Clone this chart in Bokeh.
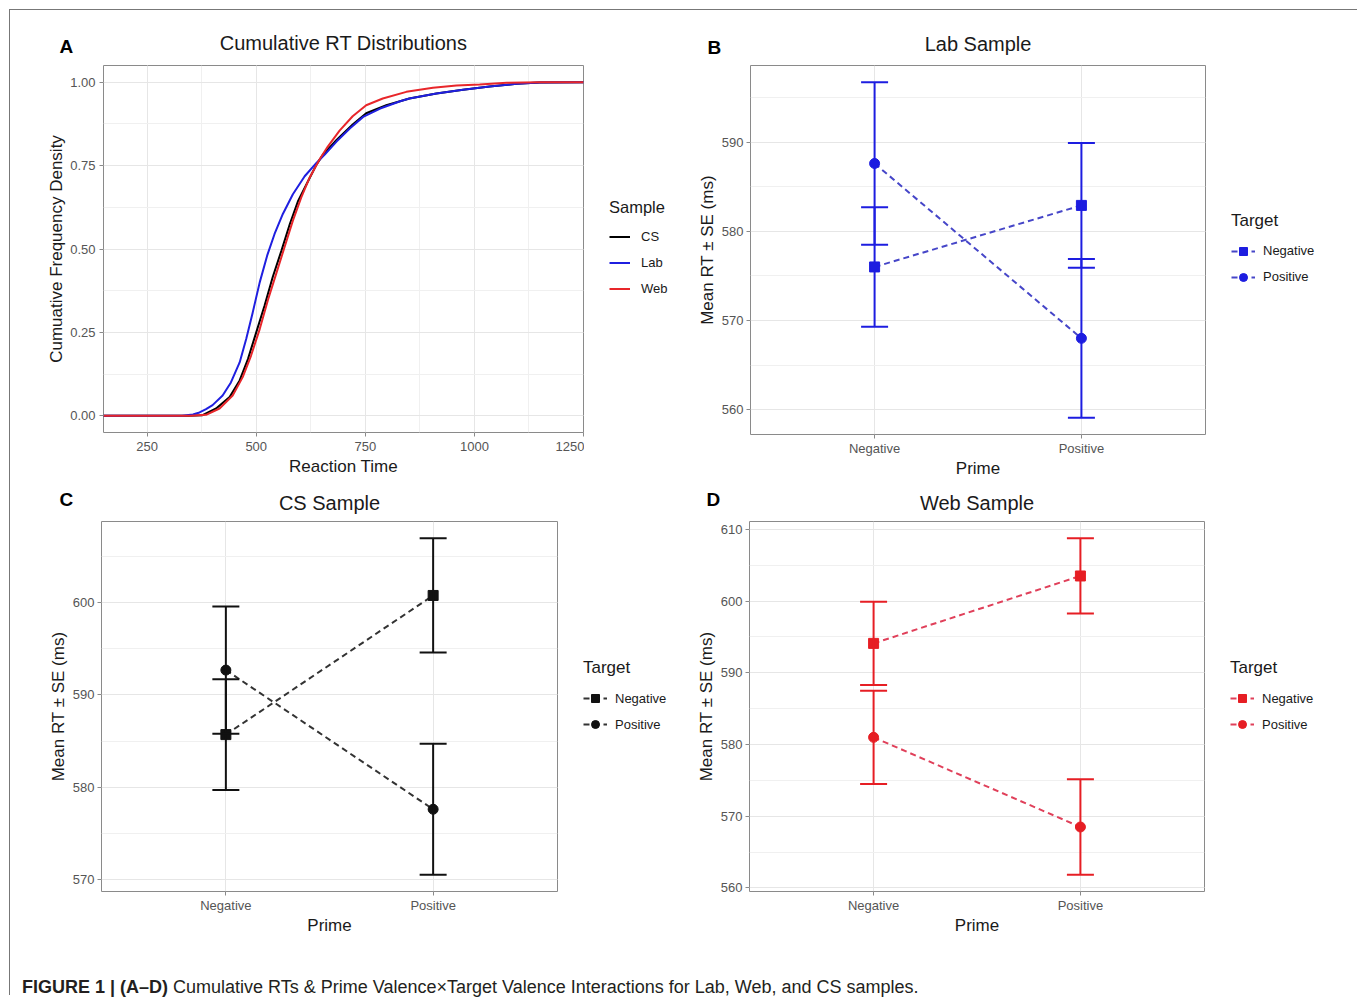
from bokeh.plotting import figure
from bokeh.models import (ColumnDataSource, Range1d, SingleIntervalTicker, FixedTicker, Title,
                          Legend, LegendItem, Whisker, TeeHead, Div, PrintfTickFormatter)
from bokeh.layouts import column, row
from bokeh.embed import file_html
from bokeh.resources import INLINE

FONT = "Liberation Sans"

# ---------------- data ----------------
# Panel A: cumulative RT distributions
cs_x = [150, 345, 377, 408, 439, 462, 481, 500, 519, 538, 558, 577, 596, 619, 638, 653, 684,
        721, 752, 798, 851, 913, 974, 1035, 1097, 1150, 1250]
cs_y = [0, 0, 0.002, 0.022, 0.056, 0.106, 0.17, 0.25, 0.33, 0.417, 0.496, 0.575, 0.644, 0.704,
        0.753, 0.783, 0.827, 0.873, 0.907, 0.931, 0.951, 0.966, 0.977, 0.987, 0.995, 0.999, 1.0]
lab_x = [150, 330, 355, 370, 385, 400, 423, 442, 462, 477, 492, 508, 525, 542, 561, 584, 611,
         638, 657, 684, 715, 745, 784, 830, 851, 913, 974, 1035, 1097, 1150, 1250]
lab_y = [0, 0, 0.004, 0.01, 0.02, 0.032, 0.061, 0.10, 0.16, 0.23, 0.31, 0.40, 0.48, 0.545,
         0.605, 0.664, 0.718, 0.758, 0.783, 0.822, 0.862, 0.896, 0.921, 0.943, 0.951, 0.966,
         0.977, 0.987, 0.995, 0.999, 1.0]
web_x = [150, 350, 385, 416, 446, 469, 488, 508, 527, 546, 565, 584, 603, 622, 645, 664, 691,
         721, 752, 790, 844, 905, 959, 1012, 1074, 1150, 1250]
web_y = [0, 0, 0.003, 0.022, 0.061, 0.116, 0.18, 0.26, 0.348, 0.427, 0.506, 0.585, 0.654,
         0.713, 0.768, 0.807, 0.855, 0.898, 0.931, 0.951, 0.971, 0.983, 0.990, 0.993, 0.998,
         1.0, 1.0]
samples = ["CS", "Lab", "Web"]

# Panels B-D: mean RT and SE by Prime (x) and Target (series)
primes = ["Negative", "Positive"]
targets = ["Negative", "Positive"]

lab_neg_mean = [576.0, 582.9]
lab_neg_se = [6.7, 7.0]
lab_pos_mean = [587.6, 568.0]
lab_pos_se = [9.1, 8.9]

cs_neg_mean = [585.7, 600.8]
cs_neg_se = [6.0, 6.2]
cs_pos_mean = [592.7, 577.6]
cs_pos_se = [6.9, 7.1]

web_neg_mean = [594.1, 603.5]
web_neg_se = [5.8, 5.25]
web_pos_mean = [581.0, 568.5]
web_pos_se = [6.5, 6.65]

caption_bold = "FIGURE 1 | (A\u2013D)"
caption_rest = ("Cumulative RTs &amp; Prime Valence\u00d7Target Valence Interactions for Lab, "
                "Web, and CS samples.")

# ---------------- styling helpers ----------------
FRAME = "#8a8a8a"
GRID_MAJOR = "#E6E6E6"
GRID_MINOR = "#F0F0F0"
TICK_TXT = "#555555"


def base_style(p):
    p.outline_line_color = FRAME
    p.outline_line_width = 1
    p.border_fill_color = "white"
    p.background_fill_color = "white"
    for ax in p.axis:
        ax.axis_line_color = None
        ax.major_tick_line_color = FRAME
        ax.major_tick_in = 0
        ax.major_tick_out = 4
        ax.minor_tick_line_color = None
        ax.major_label_text_font = FONT
        ax.major_label_text_font_size = "13px"
        ax.major_label_text_color = TICK_TXT
        ax.axis_label_text_font = FONT
        ax.axis_label_text_font_size = "17px"
        ax.axis_label_text_font_style = "normal"
        ax.axis_label_text_color = "#1a1a1a"
    for g in p.grid:
        g.grid_line_color = GRID_MAJOR
        g.grid_line_width = 1
        g.minor_grid_line_color = GRID_MINOR
        g.minor_grid_line_width = 1


def add_titles(p, text, title_standoff, letter, letter_offset, letter_standoff):
    # main title: nearest to the frame
    p.add_layout(Title(text=text, align="center", standoff=title_standoff, text_font=FONT,
                       text_font_size="20px", text_font_style="normal",
                       text_color="#1a1a1a"), "above")
    # panel letter: outer title pulled down onto the same line
    p.add_layout(Title(text=letter, align="left", offset=letter_offset,
                       standoff=letter_standoff, text_font=FONT, text_font_size="19px",
                       text_font_style="bold", text_color="black"), "above")


def style_legend(lg, glyph_w, standoff, label_w, title_size):
    lg.border_line_color = None
    lg.background_fill_alpha = 0
    lg.label_text_font = FONT
    lg.label_text_font_size = "13px"
    lg.label_text_color = "#1a1a1a"
    lg.title_text_font = FONT
    lg.title_text_font_size = title_size
    lg.title_text_font_style = "normal"
    lg.title_text_color = "#1a1a1a"
    lg.glyph_width = glyph_w
    lg.glyph_height = 20
    lg.label_height = 20
    lg.label_width = label_w
    lg.label_standoff = standoff
    lg.spacing = 6
    lg.padding = 0
    lg.margin = 25
    lg.title_standoff = 10
    lg.location = "left"


def legend_strip(w, h, top):
    # plain axis-less strip that only hosts a legend (its series lie out of view)
    s = figure(width=w, height=h, min_border=0, min_border_top=top, output_backend="svg",
               toolbar_location=None, title_location=None, x_axis_location=None,
               y_axis_location=None, x_range=Range1d(5000, 5001),
               y_range=Range1d(5000, 5001))
    s.outline_line_color = None
    s.border_fill_color = "white"
    s.background_fill_color = "white"
    for g in s.grid:
        g.visible = False
    return s


# ---------------- Panel A ----------------
pA = figure(frame_width=480, frame_height=367, min_border_left=93, min_border_right=1,
            min_border_top=55, min_border_bottom=50, output_backend="svg",
            toolbar_location=None, title_location=None,
            x_range=Range1d(150, 1250), y_range=Range1d(-0.05, 1.05))
pA.xaxis.ticker = SingleIntervalTicker(interval=250, num_minor_ticks=2)
pA.yaxis.ticker = SingleIntervalTicker(interval=0.25, num_minor_ticks=2)
pA.yaxis.formatter = PrintfTickFormatter(format="%.2f")
pA.xaxis.axis_label = "Reaction Time"
pA.yaxis.axis_label = "Cumuative Frequency Density"
base_style(pA)
pA.xaxis.major_label_standoff = 5
pA.xaxis.axis_label_standoff = 3
pA.yaxis.major_label_standoff = 4
pA.yaxis.axis_label_standoff = 1
add_titles(pA, "Cumulative RT Distributions", 23, "A", -44, -76)

pAL = legend_strip(110, 470, 5)
colors_A = ["black", "#1f1fe0", "#e8262a"]
itemsA = []
for s_name, xs, ys, c in zip(samples, [cs_x, lab_x, web_x], [cs_y, lab_y, web_y], colors_A):
    pA.line(xs, ys, line_color=c, line_width=2)
    r_leg = pAL.line(xs, ys, line_color=c, line_width=2)
    itemsA.append(LegendItem(label=s_name, renderers=[r_leg]))
lgA = Legend(items=itemsA, title="Sample")
style_legend(lgA, 21, 11, 20, "16.5px")
pAL.add_layout(lgA)


# ---------------- Panels B-D ----------------
def interaction_panel(title, letter, neg_mean, neg_se, pos_mean, pos_se, color, line_color,
                      fw, fh, mb_left, mb_top, mb_bottom, title_standoff, lbl_standoff,
                      letter_offset, letter_standoff, legend_fig):
    lows = [m - s for m, s in zip(neg_mean + pos_mean, neg_se + pos_se)]
    highs = [m + s for m, s in zip(neg_mean + pos_mean, neg_se + pos_se)]
    lo, hi = min(lows), max(highs)
    pad = 0.05 * (hi - lo)
    p = figure(frame_width=fw, frame_height=fh, min_border_left=mb_left,
               min_border_right=1, min_border_top=mb_top, min_border_bottom=mb_bottom,
               output_backend="svg", toolbar_location=None, title_location=None,
               x_range=Range1d(0.4, 2.6), y_range=Range1d(lo - pad, hi + pad))
    xpos = [i + 1 for i in range(len(primes))]
    p.xaxis.ticker = FixedTicker(ticks=xpos)
    p.xaxis.major_label_overrides = {x: lab for x, lab in zip(xpos, primes)}
    p.yaxis.ticker = SingleIntervalTicker(interval=10, num_minor_ticks=2)
    p.xaxis.axis_label = "Prime"
    p.yaxis.axis_label = "Mean RT \u00b1 SE (ms)"
    base_style(p)
    p.xgrid.minor_grid_line_color = None
    p.xaxis.major_label_standoff = lbl_standoff
    p.xaxis.axis_label_standoff = 0
    p.yaxis.major_label_standoff = 3
    p.yaxis.axis_label_standoff = 2
    add_titles(p, title, title_standoff, letter, letter_offset, letter_standoff)

    items = []
    for tgt, mean, se, marker in zip(targets, [neg_mean, pos_mean], [neg_se, pos_se],
                                     ["square", "circle"]):
        src = ColumnDataSource(dict(x=xpos, y=mean,
                                    lower=[m - s for m, s in zip(mean, se)],
                                    upper=[m + s for m, s in zip(mean, se)]))
        w = Whisker(source=src, base="x", upper="upper", lower="lower", dimension="height",
                    line_color=color, line_width=2, level="glyph",
                    upper_head=TeeHead(size=27, line_color=color, line_width=2),
                    lower_head=TeeHead(size=27, line_color=color, line_width=2))
        p.add_layout(w)
        p.line("x", "y", source=src, line_color=line_color, line_width=2, line_dash="6 4")
        p.scatter("x", "y", source=src, marker=marker, size=10, fill_color=color,
                  line_color=color)
        # same series in the legend strip (out of view there) so the legend can show them
        rl = legend_fig.line("x", "y", source=src, line_color=line_color, line_width=2,
                             line_dash="6 4")
        rm = legend_fig.scatter("x", "y", source=src, marker=marker, size=10,
                                fill_color=color, line_color=color)
        items.append(LegendItem(label=tgt, renderers=[rl, rm]))
    lg = Legend(items=items, title="Target")
    style_legend(lg, 24, 8, 20, "17px")
    legend_fig.add_layout(lg)
    return p


pBL = legend_strip(151, 472, 0)
pB = interaction_panel("Lab Sample", "B", lab_neg_mean, lab_neg_se, lab_pos_mean, lab_pos_se,
                       "#1d1de0", "#4646c8", 455, 369, 55, 54, 49, 21, 2, -43, -74, pBL)
pCL = legend_strip(135, 439, 0)
pC = interaction_panel("CS Sample", "C", cs_neg_mean, cs_neg_se, cs_pos_mean, cs_pos_se,
                       "#111111", "#333333", 456, 370, 91, 36, 50, 15, 2, -42, -54, pCL)
pDL = legend_strip(151, 439, 0)
pD = interaction_panel("Web Sample", "D", web_neg_mean, web_neg_se, web_pos_mean, web_pos_se,
                       "#e61e24", "#e0405a", 455, 370, 56, 36, 50, 15, 2, -43, -54, pDL)

cap = Div(text=f"<b>{caption_bold}</b> {caption_rest}", width=1300, height=16,
          margin=(38, 0, 0, 12),
          styles={"font-family": FONT, "font-size": "18px", "line-height": "16px",
                  "color": "#231f20", "white-space": "nowrap"})

layout = column(row(pA, pAL, pB, pBL, spacing=0), row(pC, pCL, pD, pDL, spacing=0), cap,
                spacing=0, margin=(9, 0, 0, 9),
                styles={"border-left": "1px solid #777", "border-top": "1px solid #777",
                        "border-right": "1px solid #777"})

open("out.html", "w").write(file_html(layout, INLINE))
